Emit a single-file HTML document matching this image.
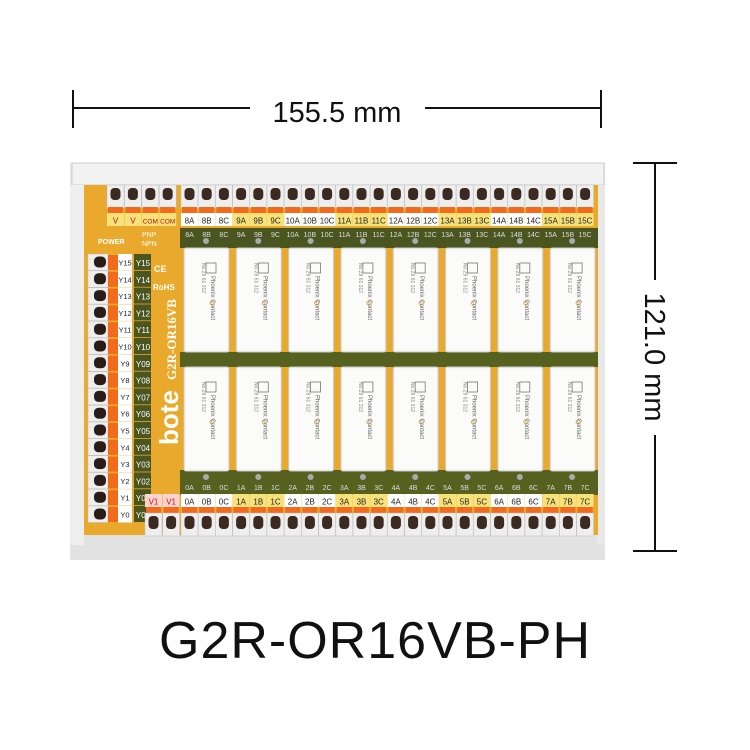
<!DOCTYPE html>
<html><head><meta charset="utf-8"><style>
html,body{margin:0;padding:0;background:#fff;width:750px;height:750px;overflow:hidden}
svg{display:block}
</style></head><body>
<svg id="s" width="750" height="750" xmlns="http://www.w3.org/2000/svg" font-family="Liberation Sans, sans-serif">
<rect width="750" height="750" fill="#fff"/>
<line x1="73" y1="108" x2="601" y2="108" stroke="#111" stroke-width="2"/>
<line x1="73" y1="90" x2="73" y2="128" stroke="#111" stroke-width="2"/>
<line x1="601" y1="90" x2="601" y2="128" stroke="#111" stroke-width="2"/>
<rect x="250" y="92" width="175" height="34" fill="#fff"/>
<text x="337" y="122" font-size="29" text-anchor="middle" fill="#111">155.5 mm</text>
<line x1="655" y1="163" x2="655" y2="551" stroke="#111" stroke-width="2"/>
<line x1="633" y1="163" x2="677" y2="163" stroke="#111" stroke-width="2"/>
<line x1="633" y1="551" x2="677" y2="551" stroke="#111" stroke-width="2"/>
<rect x="638" y="280" width="34" height="155" fill="#fff"/>
<text transform="translate(645,357) rotate(90)" font-size="29" text-anchor="middle" fill="#111">121.0 mm</text>
<text x="375" y="658" font-size="52" text-anchor="middle" fill="#111" letter-spacing="1">G2R-OR16VB-PH</text>
<rect x="70" y="163" width="535" height="397" fill="#e6e6e6"/>
<rect x="72" y="163" width="532" height="22" fill="#f2f2f2" stroke="#ccc"/>
<rect x="70" y="535" width="535" height="25" fill="#e2e2e2"/>
<rect x="70" y="185" width="14" height="360" fill="#eeeeee"/>
<rect x="597" y="185" width="8" height="360" fill="#e8e8e8"/>
<rect x="84" y="185" width="514" height="350" fill="#e9a92c"/>
<rect x="180" y="228" width="418" height="20" fill="#4a5520"/>
<rect x="180" y="352" width="418" height="15" fill="#56601f"/>
<rect x="180" y="470" width="418" height="25" fill="#56601f"/>
<g id="g"></g>
<text x="98" y="244" font-size="7" fill="#fff" font-weight="bold">POWER</text>
<text x="142" y="237" font-size="7" fill="#fff">PNP</text>
<text x="142" y="246" font-size="7" fill="#fff">NPN</text>
<text x="154" y="272" font-size="9" fill="#fff" font-weight="bold">CE</text>
<text x="153" y="290" font-size="8" fill="#fff" font-weight="bold">RoHS</text>
<text transform="translate(176,380) rotate(-90)" font-size="13" fill="#fff" font-family="Liberation Serif,serif" font-weight="bold">G2R-OR16VB</text>
<text transform="translate(178,445) rotate(-90)" font-size="26" fill="#fff" font-weight="bold">bote</text>
</svg>
<script>
(function(){
var g=document.getElementById('g');var h='';
function tx(x,y,t,s,c){return '<text x="'+x+'" y="'+y+'" font-size="'+s+'" fill="'+c+'" text-anchor="middle">'+t+'</text>';}
var tl=['V','V','COM','COM'];
for(var i=0;i<4;i++){var x=107+i*17.4;h+='<rect x="'+x+'" y="185" width="17" height="23" fill="#eee" stroke="#bbb" stroke-width=".5"/><rect x="'+(x+3.5)+'" y="188" width="10" height="12" rx="4" fill="#3a2a22"/><rect x="'+(x+1)+'" y="207" width="15" height="6" fill="#f26a1b"/><rect x="'+x+'" y="213" width="17" height="13" fill="#f7e27a"/>'+tx(x+8.5,223.5,tl[i],i>1?6.5:8,'#a11');}
for(var i=0;i<24;i++){var x=181+i*17.2;var n=8+Math.floor(i/3),l=n+'ABC'[i%3];var yb=(n%2)?'#f7e27a':'#fff';
h+='<rect x="'+x+'" y="185" width="17" height="23" fill="#eee" stroke="#bbb" stroke-width=".5"/><rect x="'+(x+3.5)+'" y="188" width="10" height="12" rx="4" fill="#3a2a22"/><rect x="'+(x+1)+'" y="207" width="15" height="6" fill="#f26a1b"/><rect x="'+x+'" y="213" width="17" height="13" fill="'+yb+'"/>'+tx(x+8.5,223.5,l,8,'#222');
h+=tx(x+8.5,237,l,7,'#ddd');
var nb=Math.floor(i/3),lb=nb+'ABC'[i%3];var yb2=(nb%2)?'#f7e27a':'#fff';
h+='<rect x="'+x+'" y="494" width="17" height="13" fill="'+yb2+'"/>'+tx(x+8.5,504.5,lb,8,'#222')+'<rect x="'+(x+1)+'" y="507" width="15" height="6" fill="#f26a1b"/><rect x="'+x+'" y="513" width="17" height="23" fill="#eee" stroke="#bbb" stroke-width=".5"/><rect x="'+(x+3.5)+'" y="516" width="10" height="13" rx="4" fill="#3a2a22"/>'+tx(x+8.5,490,lb,7,'#ddd');}
for(var i=0;i<16;i++){var y=254+i*16.8;var n=15-i;
h+='<rect x="88" y="'+y+'" width="20" height="16.5" fill="#eee" stroke="#bbb" stroke-width=".5"/><rect x="94" y="'+(y+2.5)+'" width="12" height="11" rx="4.5" fill="#2a1d18"/><rect x="108" y="'+(y+1)+'" width="10" height="15" fill="#f26a1b"/><rect x="118" y="'+y+'" width="14" height="16.5" fill="#fff"/>'+tx(125,y+11.5,'Y'+n,7.5,'#222');
var lab=n>9?'Y'+n:'Y0'+n;
h+='<rect x="134" y="'+y+'" width="17" height="16" fill="#4a5520"/>'+tx(143,y+12,lab,8,'#fff');}
for(var i=0;i<2;i++){var x=145+i*17.6;h+='<rect x="'+x+'" y="494" width="17" height="13" fill="#fbd4cf"/>'+tx(x+8.5,504.5,'V1',8,'#c11')+'<rect x="'+(x+1)+'" y="507" width="15" height="6" fill="#f26a1b"/><rect x="'+x+'" y="513" width="17" height="23" fill="#eee" stroke="#bbb" stroke-width=".5"/><rect x="'+(x+3.5)+'" y="516" width="10" height="13" rx="4" fill="#3a2a22"/>';}
for(var c=0;c<8;c++){var x=184+c*52.3;for(var r=0;r<2;r++){var y=r?367:248;
h+='<rect x="'+x+'" y="'+y+'" width="45" height="104" rx="2" fill="#f7f7f5" stroke="#c8c8c8"/><rect x="'+(x+2)+'" y="'+(y+3)+'" width="41" height="98" fill="#fbfbfa"/>';
h+='<rect x="'+(x+22)+'" y="'+(y+15)+'" width="10" height="10" fill="none" stroke="#777" stroke-width=".8"/>';
h+='<text transform="translate('+(x+27)+','+(y+28)+') rotate(90)" font-size="6" fill="#666">Phoenix Contact</text>';
h+='<text transform="translate('+(x+18)+','+(y+15)+') rotate(90)" font-size="5" fill="#888">No.29 61 312</text>';
h+='<circle cx="'+(x+28)+'" cy="'+(y+55)+'" r="2" fill="none" stroke="#c9a96a"/>';
h+='<circle cx="'+(x+22)+'" cy="'+(r?y+110:y-7)+'" r="3" fill="#aaa"/>';
}}
g.innerHTML=h;
})();
</script>
</body></html>
